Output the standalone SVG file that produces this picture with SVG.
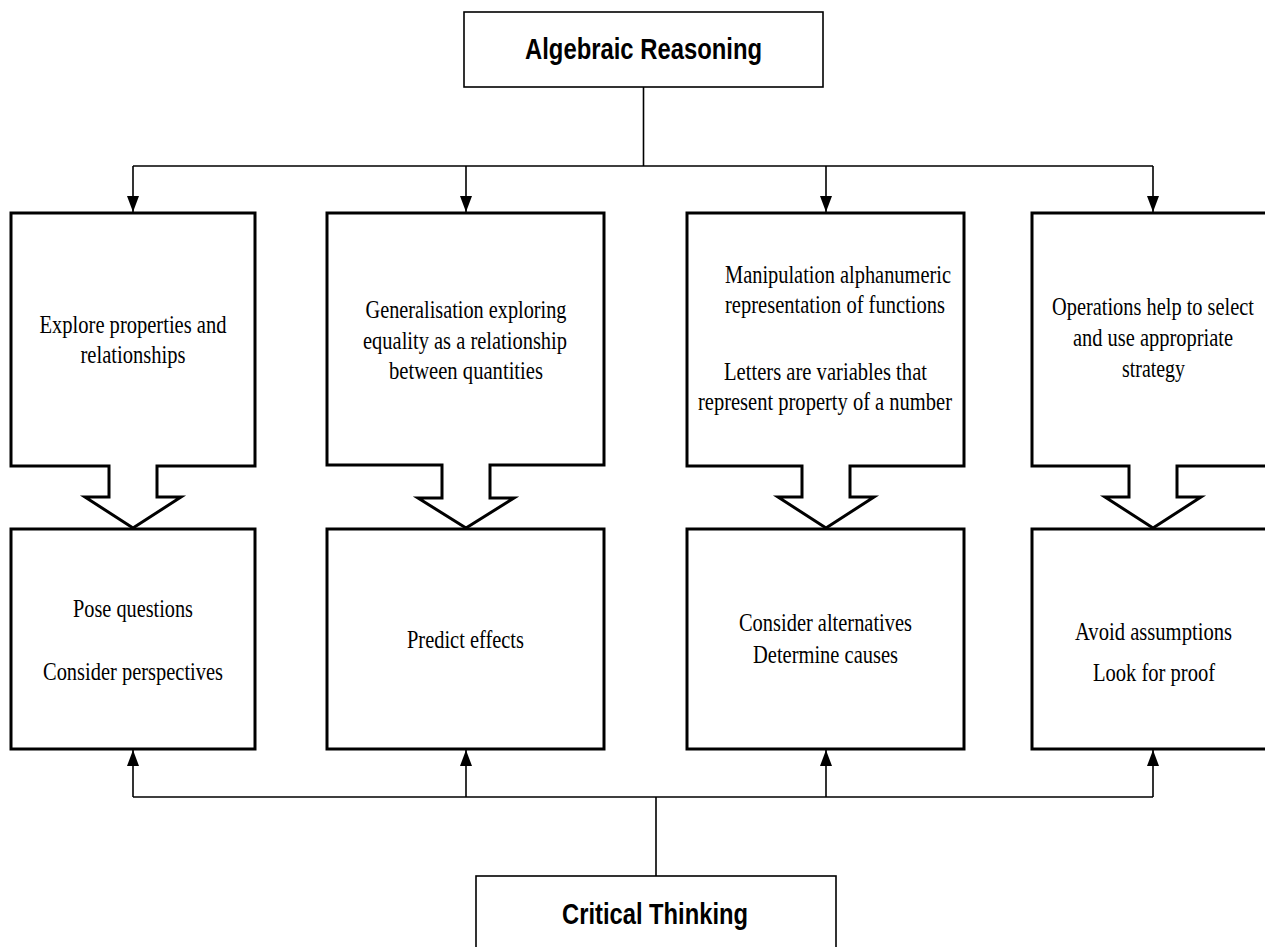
<svg xmlns="http://www.w3.org/2000/svg" width="1265" height="947" viewBox="0 0 1265 947">
<style>
.bg{fill:#fff}
.box{fill:#fff;stroke:#000;stroke-width:3;stroke-linejoin:miter}
.tbox{fill:#fff;stroke:#000;stroke-width:1.6}
.conn{fill:none;stroke:#000;stroke-width:1.6}
.t{font-family:"Liberation Serif","Times New Roman",serif;font-size:26px;fill:#000;text-anchor:middle}
.h{font-family:"Liberation Sans",Arial,sans-serif;font-size:29px;font-weight:bold;fill:#000;text-anchor:middle}
</style>
<defs>
<marker id="ah" markerUnits="userSpaceOnUse" markerWidth="16" markerHeight="12" refX="16" refY="6" viewBox="0 0 16 12" orient="auto">
<path d="M0,0 L16,6 L0,12 Z" fill="#000"/>
</marker>
</defs>
<rect class="bg" x="0" y="0" width="1265" height="947"/>

<g id="connectors">
<path class="conn" d="M643.5,87 V166 M133,166 H1153"/>
<path class="conn" d="M133,166 V212" marker-end="url(#ah)"/>
<path class="conn" d="M466,166 V212" marker-end="url(#ah)"/>
<path class="conn" d="M826,166 V212" marker-end="url(#ah)"/>
<path class="conn" d="M1153,166 V212" marker-end="url(#ah)"/>
<path class="conn" d="M133,797 H1153 M656,797 V876"/>
<path class="conn" d="M133,797 V750" marker-end="url(#ah)"/>
<path class="conn" d="M466,797 V750" marker-end="url(#ah)"/>
<path class="conn" d="M826,797 V750" marker-end="url(#ah)"/>
<path class="conn" d="M1153,797 V750" marker-end="url(#ah)"/>
</g>

<g id="algebraic-reasoning">
<rect class="tbox" x="464" y="12" width="359" height="75"/>
<text class="h" x="643.5" y="59" textLength="237" lengthAdjust="spacingAndGlyphs">Algebraic Reasoning</text>
</g>

<g id="explore">
<path class="box" d="M11,213 H255 V466 H157 V497 H181 L133,528 L85,497 H109 V466 H11 Z"/>
<text class="t" x="133" y="333" textLength="187" lengthAdjust="spacingAndGlyphs">Explore properties and</text>
<text class="t" x="133" y="363" textLength="105" lengthAdjust="spacingAndGlyphs">relationships</text>
</g>

<g id="generalisation">
<path class="box" d="M327,213 H604 V465 H490 V498 H514 L466,528 L418,498 H442 V465 H327 Z"/>
<text class="t" x="466" y="318" textLength="201" lengthAdjust="spacingAndGlyphs">Generalisation exploring</text>
<text class="t" x="465" y="349" textLength="204" lengthAdjust="spacingAndGlyphs">equality as a relationship</text>
<text class="t" x="466" y="379" textLength="154" lengthAdjust="spacingAndGlyphs">between quantities</text>
</g>

<g id="manipulation">
<path class="box" d="M687,213 H964 V466 H850 V497 H874 L826,528 L778,497 H802 V466 H687 Z"/>
<text class="t" x="838" y="283" textLength="226" lengthAdjust="spacingAndGlyphs">Manipulation alphanumeric</text>
<text class="t" x="835" y="313" textLength="220" lengthAdjust="spacingAndGlyphs">representation of functions</text>
<text class="t" x="825.5" y="380" textLength="203" lengthAdjust="spacingAndGlyphs">Letters are variables that</text>
<text class="t" x="825" y="410" textLength="254" lengthAdjust="spacingAndGlyphs">represent property of a number</text>
</g>

<g id="operations">
<path class="box" d="M1032,213 H1290 V466 H1177 V497 H1201 L1153,528 L1105,497 H1129 V466 H1032 Z"/>
<text class="t" x="1153" y="315" textLength="202" lengthAdjust="spacingAndGlyphs">Operations help to select</text>
<text class="t" x="1153" y="346" textLength="160" lengthAdjust="spacingAndGlyphs">and use appropriate</text>
<text class="t" x="1153.5" y="377" textLength="63" lengthAdjust="spacingAndGlyphs">strategy</text>
</g>

<g id="pose-questions">
<rect class="box" x="11" y="529" width="244" height="220"/>
<text class="t" x="133" y="617" textLength="120" lengthAdjust="spacingAndGlyphs">Pose questions</text>
<text class="t" x="133" y="680" textLength="180" lengthAdjust="spacingAndGlyphs">Consider perspectives</text>
</g>

<g id="predict-effects">
<rect class="box" x="327" y="529" width="277" height="220"/>
<text class="t" x="465.5" y="648" textLength="117" lengthAdjust="spacingAndGlyphs">Predict effects</text>
</g>

<g id="consider-alternatives">
<rect class="box" x="687" y="529" width="277" height="220"/>
<text class="t" x="825.5" y="631" textLength="173" lengthAdjust="spacingAndGlyphs">Consider alternatives</text>
<text class="t" x="825.5" y="663" textLength="145" lengthAdjust="spacingAndGlyphs">Determine causes</text>
</g>

<g id="avoid-assumptions">
<rect class="box" x="1032" y="529" width="258" height="220"/>
<text class="t" x="1153.5" y="640" textLength="157" lengthAdjust="spacingAndGlyphs">Avoid assumptions</text>
<text class="t" x="1154" y="681" textLength="122" lengthAdjust="spacingAndGlyphs">Look for proof</text>
</g>

<g id="critical-thinking">
<rect class="tbox" x="476" y="876" width="360" height="90"/>
<text class="h" x="655" y="924" textLength="186" lengthAdjust="spacingAndGlyphs">Critical Thinking</text>
</g>
</svg>
